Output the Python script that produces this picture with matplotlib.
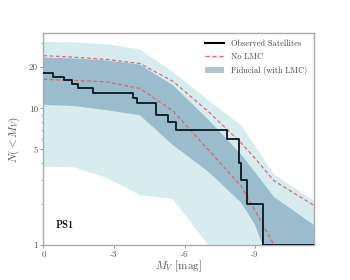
import numpy as np
import matplotlib
matplotlib.use("Agg")
import matplotlib.pyplot as plt
from matplotlib.patches import Patch
from matplotlib.lines import Line2D
from matplotlib.ticker import FixedLocator, NullFormatter

plt.rcParams['font.family'] = 'serif'
plt.rcParams['font.serif'] = ['cmr10', 'DejaVu Serif']
plt.rcParams['mathtext.fontset'] = 'cm'
plt.rcParams['axes.formatter.use_mathtext'] = True

# Magnitude grid for prediction bands
mv_grid = [0, -1.3, -2.7, -4.1, -5.5, -7.0, -8.4, -9.0, -9.8, -11.5]
light_hi = [30.7, 30.4, 29.5, 27.0, 18.5, 11.5, 7.55, 5.3, 3.3, 2.1]
light_lo = [3.74, 3.7, 3.09, 2.32, 2.17, 1.0, 0.45, 0.3, 0.2, 0.1]
dark_hi = [23.5, 23.2, 22.4, 20.9, 14.8, 8.3, 4.6, 3.4, 2.25, 1.4]
dark_lo = [10.6, 10.4, 9.7, 8.9, 5.4, 3.45, 2.05, 1.4, 0.6, 0.2]
nolmc_hi = [24.3, 23.7, 22.8, 21.3, 15.8, 9.5, 5.6, 4.3, 2.95, 1.95]
nolmc_lo = [16.3, 16.0, 15.6, 14.0, 9.6, 5.0, 2.7, 1.78, 1.0, 0.4]

# Observed satellite magnitudes
sat_mv = np.array([-0.42, -0.89, -1.2, -1.48, -2.12, -3.81, -3.96, -4.78, -4.78,
                   -5.28, -5.62, -7.8, -8.3, -8.3, -8.41, -8.64, -9.32, -13.0])

xticks = [0, -3, -6, -9]
xticklabels = ["0", "-3", "-6", "-9"]
yticks = [1, 5, 10, 20]
yticklabels = ["1", "5", "10", "20"]

fig = plt.figure(figsize=(3.5, 2.8), dpi=100)
ax = fig.add_axes([0.124, 0.125, 0.773, 0.756])

ax.fill_between(mv_grid, light_lo, light_hi, color='#d8ecf0', lw=0)
ax.fill_between(mv_grid, dark_lo, dark_hi, color='#9bbccc', lw=0)
ax.plot(mv_grid, nolmc_hi, ls=(0, (3, 2)), color='#d9605a', lw=0.9, alpha=0.9)
ax.plot(mv_grid, nolmc_lo, ls=(0, (3, 2)), color='#d9605a', lw=0.9, alpha=0.9)

x_edges = np.concatenate([[0], np.sort(sat_mv[sat_mv > -11.5])[::-1], [-11.5]])
n_obs = [np.sum(sat_mv < xe) for xe in x_edges]
ax.step(x_edges, n_obs, where='post', color='#0a1620', lw=1.3, zorder=5)

ax.set_yscale('log')
ax.set_xlim(0, -11.5)
ax.set_ylim(1, 35.4)

ax.xaxis.set_major_locator(FixedLocator(xticks))
ax.set_xticklabels(xticklabels)
ax.yaxis.set_major_locator(FixedLocator(yticks))
ax.set_yticklabels(yticklabels)
ax.yaxis.set_minor_locator(FixedLocator([2, 3, 4, 6, 7, 8, 9, 30]))
ax.yaxis.set_minor_formatter(NullFormatter())
ax.tick_params(axis='both', which='major', labelsize=6.5, length=2.5, width=0.6,
               color='#888888', labelcolor='#555555', pad=1.5)
ax.tick_params(axis='both', which='minor', length=1.5, width=0.5, color='#888888')

for s in ax.spines.values():
    s.set_color('#aaaaaa')
    s.set_linewidth(1.0)

ax.set_xlabel(r'$M_V$ [mag]', fontsize=8, color='#555555', labelpad=0)
ax.set_ylabel(r'$N(<M_V)$', fontsize=8, color='#555555', labelpad=5)

ax.text(0.045, 0.08, 'PS1', transform=ax.transAxes, fontsize=7.5,
        fontfamily='cmb10', color='#111111')

handles = [Line2D([], [], color='black', lw=1.5),
           Line2D([], [], color='#e06a60', lw=1.0, ls=(0, (3, 2))),
           Patch(facecolor='#b0c4d4', edgecolor='none')]
labels = ['Observed Satellites', 'No LMC', 'Fiducial (with LMC)']
leg = ax.legend(handles, labels, loc='upper right', frameon=False, fontsize=6,
                handlelength=2.3, handletextpad=0.8, labelspacing=0.55,
                borderaxespad=0.4)
for t in leg.get_texts():
    t.set_color('#444444')

fig.savefig('out.png', dpi=100)
